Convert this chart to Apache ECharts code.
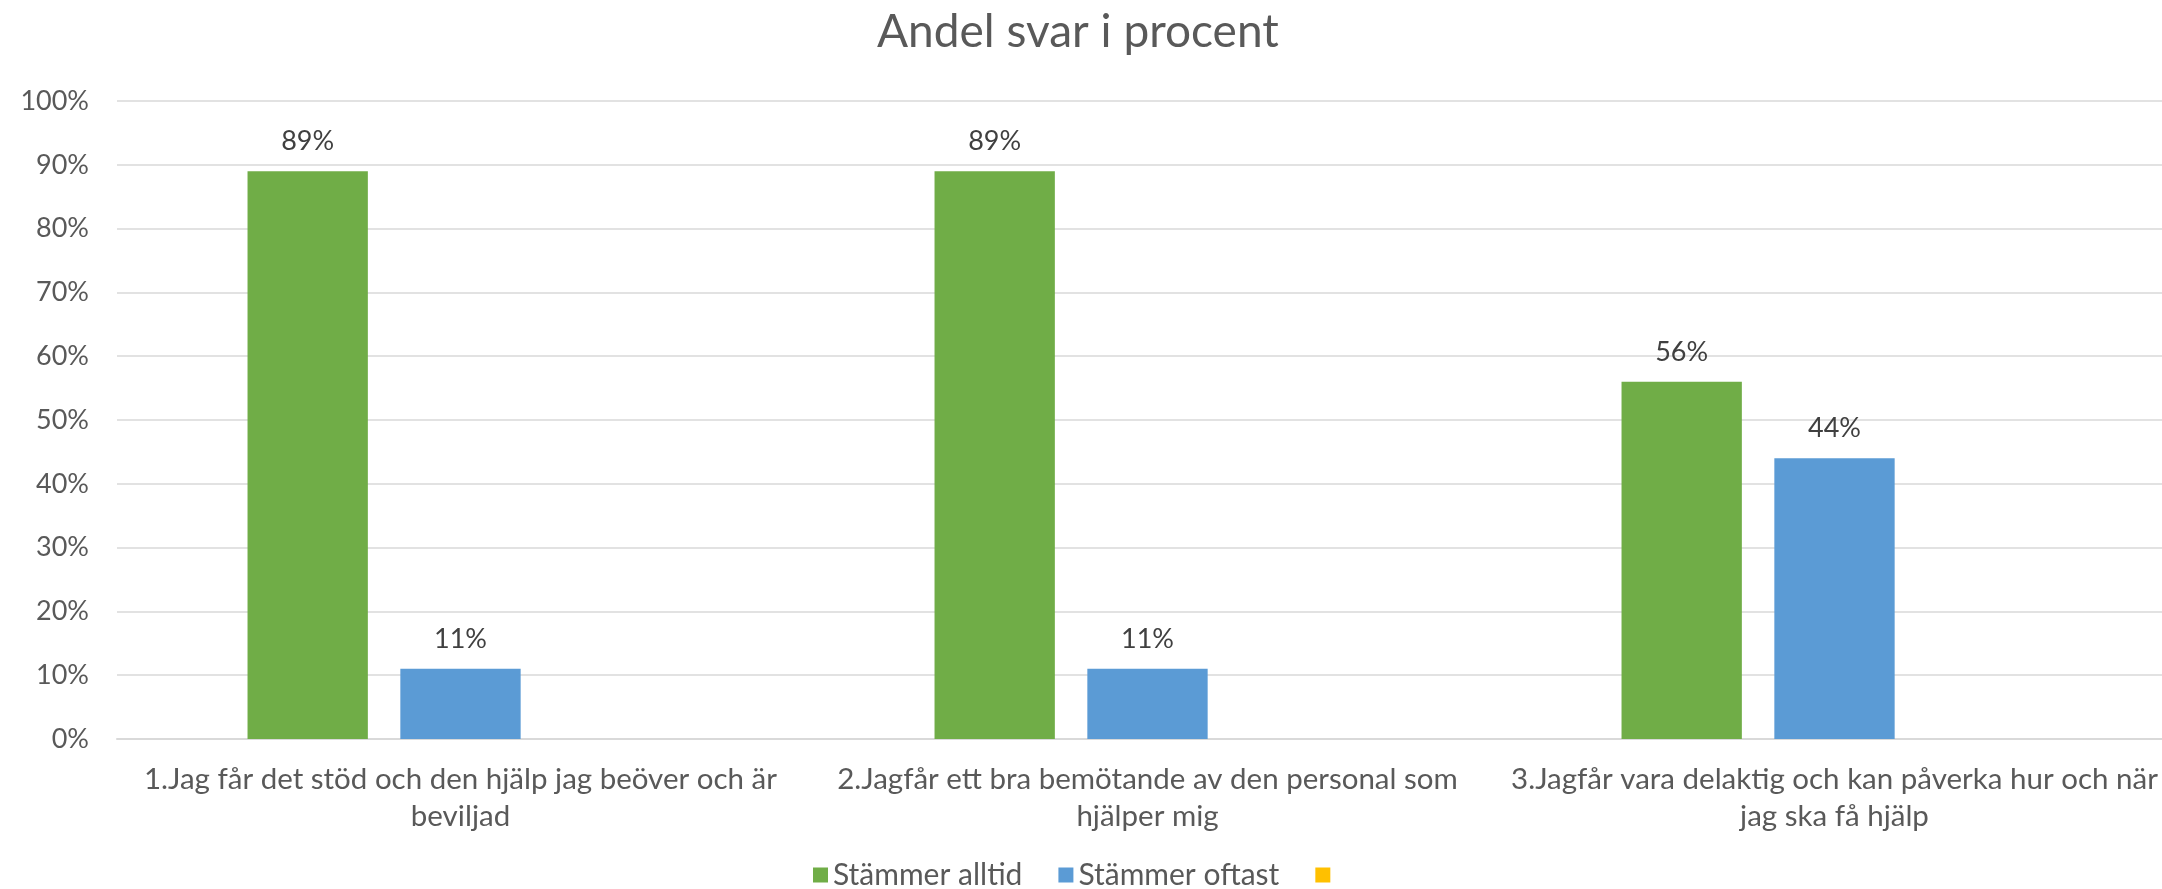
<!DOCTYPE html>
<html>
<head>
<meta charset="utf-8">
<title>Andel svar i procent</title>
<script src="https://cdn.jsdelivr.net/npm/echarts@6/dist/echarts.min.js"></script>
<style>
  html, body { margin: 0; padding: 0; background: #fff; overflow: hidden; }
  /* plotytan går lite utanför högerkanten, som i originalet */
  #chart { width: 2178px; height: 889px; }
</style>
</head>
<body>
<div id="chart"></div>
<script>
// frågor (kategorier)
const categories = [
  '1.Jag får det stöd och den hjälp jag beöver och är\nbeviljad',
  '2.Jagfår ett bra bemötande av den personal som\nhjälper mig',
  '3.Jagfår vara delaktig och kan påverka hur och när\njag ska få hjälp'
];
const seriesNames = ['Stämmer alltid', 'Stämmer oftast', ' '];
// andel i procent
const alltid = [89, 89, 56];
const oftast = [11, 11, 44];
const tredje = [null, null, null]; // tom serie i originalet
const yTicks = { min: 0, max: 100, interval: 10 };

const colors = ['#70AD47', '#5B9BD5', '#FFC000'];
const font = 'Lato, "Open Sans", sans-serif';

const chart = echarts.init(document.getElementById('chart'));

function bar(name, data) {
  return {
    name: name,
    type: 'bar',
    data: data,
    barGap: '27%',
    barCategoryGap: '38%',
    label: {
      show: true,
      position: 'top',
      distance: 16,
      formatter: '{c}%',
      color: '#404040',
      fontFamily: font,
      fontSize: 27
    }
  };
}

chart.setOption({
  animation: false,
  color: colors,
  title: {
    text: 'Andel svar i procent',
    left: 872,
    top: 4,
    textStyle: { fontFamily: font, fontWeight: 'normal', fontSize: 46, color: '#595959' }
  },
  legend: {
    bottom: -6,
    left: 808,
    itemWidth: 15,
    itemHeight: 15,
    itemGap: 36,
    icon: 'rect',
    textStyle: { fontFamily: font, fontSize: 30, color: '#595959' },
    data: seriesNames
  },
  grid: { left: 117, right: 0, top: 101, bottom: 150 },
  xAxis: {
    type: 'category',
    data: categories,
    axisLine: { lineStyle: { color: '#d9d9d9', width: 2 } },
    axisTick: { show: false },
    axisLabel: {
      interval: 0,
      margin: 22,
      lineHeight: 37,
      fontFamily: font,
      fontSize: 29.5,
      color: '#595959'
    }
  },
  yAxis: {
    type: 'value',
    min: yTicks.min,
    max: yTicks.max,
    interval: yTicks.interval,
    axisLine: { show: false },
    axisTick: { show: false },
    splitLine: { lineStyle: { color: '#d9d9d9', width: 1.5 } },
    axisLabel: {
      formatter: '{value}%',
      margin: 28,
      fontFamily: font,
      fontSize: 27,
      color: '#595959'
    }
  },
  series: [
    bar(seriesNames[0], alltid),
    bar(seriesNames[1], oftast),
    bar(seriesNames[2], tredje)
  ]
});
</script>
</body>
</html>
